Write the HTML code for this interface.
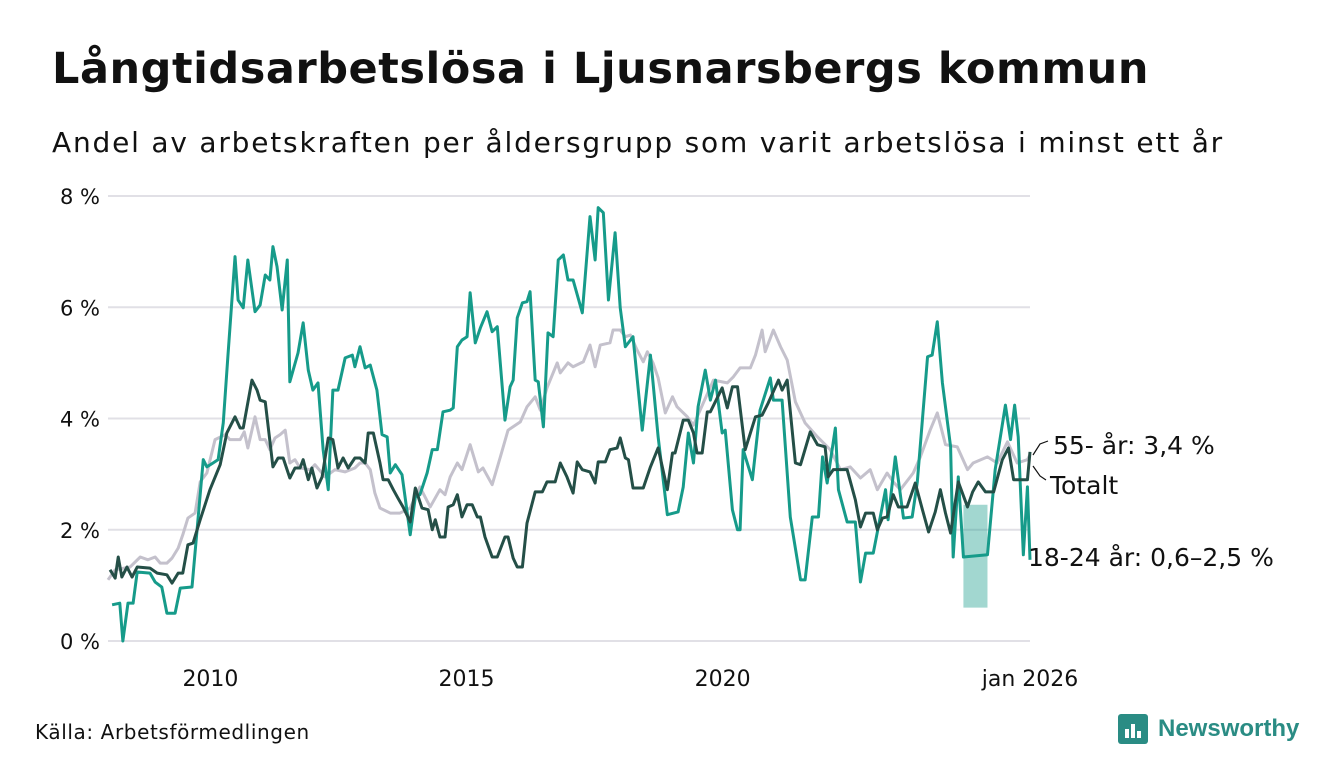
<!DOCTYPE html>
<html><head><meta charset="utf-8">
<style>
body{margin:0;width:1340px;height:780px;background:#fff;font-family:"DejaVu Sans","Liberation Sans",sans-serif;overflow:hidden;position:relative}
h1{position:absolute;left:52px;top:44px;margin:0;font-size:43px;font-weight:bold;color:#111;letter-spacing:0.55px;white-space:nowrap}
.sub{position:absolute;left:52px;top:126px;margin:0;font-size:28px;color:#111;letter-spacing:1.8px;white-space:nowrap}
.src{position:absolute;left:35px;top:720px;font-size:20px;color:#111;letter-spacing:0.6px}
.logo{position:absolute;left:1118px;top:714px;display:flex;align-items:center;gap:10px;color:#2a8c84;font-weight:bold;font-size:24px;font-family:"Liberation Sans",sans-serif}
svg{position:absolute;left:0;top:0}
</style></head><body>
<h1>Långtidsarbetslösa i Ljusnarsbergs kommun</h1>
<div class="sub">Andel av arbetskraften per åldersgrupp som varit arbetslösa i minst ett år</div>
<div class="src">Källa: Arbetsförmedlingen</div>
<div class="logo"><svg width="30" height="30" style="position:static"><rect x="0" y="0" width="30" height="30" rx="3" fill="#2a8c84"/><rect x="7" y="15" width="4" height="9" fill="#fff"/><rect x="13" y="10" width="4" height="14" fill="#fff"/><rect x="19" y="17" width="4" height="7" fill="#fff"/></svg><span>Newsworthy</span></div>
<svg id="chart" width="1340" height="780"></svg>
<script>
const yTicks=[0,2,4,6,8];
const yTickLabels=["0 %","2 %","4 %","6 %","8 %"];
const xTicks=[2010,2015,2020,2026];
const xTickLabels=["2010","2015","2020","jan 2026"];
const totX=[2008.04,2008.14,2008.2,2008.27,2008.37,2008.47,2008.57,2008.82,2008.96,2009.15,2009.25,2009.37,2009.46,2009.56,2009.66,2009.8,2009.99,2010.19,2010.32,2010.48,2010.58,2010.64,2010.81,2010.91,2010.97,2011.07,2011.22,2011.32,2011.42,2011.55,2011.65,2011.75,2011.81,2011.91,2011.98,2012.08,2012.18,2012.3,2012.39,2012.49,2012.59,2012.69,2012.82,2012.92,2013.02,2013.08,2013.18,2013.31,2013.37,2013.47,2013.57,2013.66,2013.76,2013.9,2014.0,2014.13,2014.25,2014.33,2014.39,2014.48,2014.58,2014.64,2014.74,2014.82,2014.91,2015.01,2015.11,2015.21,2015.27,2015.36,2015.5,2015.6,2015.75,2015.81,2015.91,2015.99,2016.09,2016.18,2016.34,2016.48,2016.57,2016.73,2016.83,2016.96,2017.08,2017.16,2017.26,2017.41,2017.51,2017.57,2017.71,2017.8,2017.94,2018.0,2018.1,2018.16,2018.25,2018.45,2018.59,2018.74,2018.92,2019.02,2019.07,2019.23,2019.33,2019.43,2019.5,2019.6,2019.7,2019.76,2019.99,2020.09,2020.19,2020.29,2020.44,2020.64,2020.77,2020.89,2021.09,2021.16,2021.26,2021.42,2021.52,2021.71,2021.85,2022.0,2022.06,2022.16,2022.43,2022.59,2022.69,2022.79,2022.94,2023.02,2023.12,2023.21,2023.33,2023.43,2023.6,2023.76,2023.9,2024.02,2024.15,2024.25,2024.35,2024.45,2024.6,2024.78,2024.88,2024.99,2025.13,2025.29,2025.46,2025.58,2025.68,2025.95,2026.0];
const totV=[1.28,1.13,1.51,1.15,1.33,1.15,1.33,1.31,1.22,1.19,1.04,1.22,1.22,1.73,1.76,2.18,2.72,3.17,3.74,4.03,3.83,3.83,4.69,4.51,4.33,4.3,3.13,3.29,3.29,2.93,3.11,3.11,3.26,2.9,3.11,2.75,2.95,3.65,3.62,3.11,3.29,3.11,3.29,3.29,3.2,3.74,3.74,3.2,2.9,2.9,2.72,2.57,2.41,2.14,2.75,2.39,2.36,2.0,2.18,1.87,1.87,2.41,2.45,2.63,2.23,2.45,2.45,2.23,2.23,1.87,1.51,1.51,1.87,1.87,1.49,1.33,1.33,2.12,2.68,2.68,2.86,2.86,3.2,2.95,2.66,3.22,3.08,3.04,2.84,3.22,3.22,3.44,3.47,3.65,3.29,3.26,2.75,2.75,3.13,3.47,2.72,3.38,3.38,3.97,3.97,3.74,3.38,3.38,4.12,4.12,4.55,4.19,4.57,4.57,3.44,4.03,4.06,4.28,4.69,4.51,4.69,3.2,3.17,3.76,3.53,3.49,2.95,3.08,3.08,2.54,2.05,2.3,2.3,2.0,2.21,2.23,2.63,2.41,2.41,2.84,2.36,1.96,2.32,2.72,2.3,1.94,2.86,2.41,2.68,2.86,2.68,2.68,3.26,3.47,2.9,2.9,3.4];
const oldX=[2008.0,2008.14,2008.43,2008.63,2008.78,2008.92,2009.02,2009.15,2009.25,2009.37,2009.46,2009.56,2009.7,2009.8,2009.93,2010.09,2010.29,2010.38,2010.58,2010.66,2010.73,2010.87,2010.97,2011.07,2011.16,2011.26,2011.36,2011.46,2011.55,2011.65,2011.75,2011.95,2012.04,2012.24,2012.43,2012.63,2012.82,2012.92,2013.02,2013.12,2013.21,2013.31,2013.51,2013.7,2013.9,2014.09,2014.29,2014.48,2014.58,2014.68,2014.82,2014.91,2015.07,2015.23,2015.32,2015.5,2015.66,2015.81,2016.05,2016.18,2016.34,2016.44,2016.57,2016.77,2016.83,2016.98,2017.08,2017.28,2017.41,2017.51,2017.61,2017.8,2017.86,2018.0,2018.1,2018.2,2018.33,2018.45,2018.53,2018.64,2018.74,2018.88,2019.02,2019.11,2019.31,2019.43,2019.56,2019.82,2020.09,2020.21,2020.34,2020.54,2020.64,2020.77,2020.83,2020.99,2021.13,2021.26,2021.42,2021.61,2021.85,2022.1,2022.3,2022.49,2022.69,2022.88,2023.02,2023.21,2023.33,2023.47,2023.72,2023.86,2024.05,2024.19,2024.35,2024.58,2024.78,2024.89,2025.17,2025.36,2025.56,2025.75,2025.95,2026.0];
const oldV=[1.1,1.28,1.33,1.51,1.46,1.51,1.4,1.4,1.49,1.67,1.91,2.21,2.3,2.86,3.02,3.62,3.71,3.62,3.62,3.76,3.47,4.03,3.62,3.62,3.44,3.65,3.71,3.79,3.2,3.26,3.11,3.08,3.17,2.95,3.08,3.04,3.11,3.2,3.2,3.08,2.66,2.39,2.3,2.3,2.39,2.77,2.41,2.72,2.63,2.95,3.2,3.08,3.53,3.04,3.11,2.81,3.31,3.79,3.94,4.21,4.39,4.15,4.55,5.0,4.82,5.0,4.93,5.02,5.32,4.93,5.32,5.36,5.59,5.59,5.47,5.5,5.23,5.02,5.2,5.0,4.73,4.1,4.39,4.21,4.03,3.88,4.15,4.69,4.64,4.75,4.91,4.91,5.14,5.59,5.2,5.59,5.29,5.05,4.3,3.92,3.67,3.44,3.08,3.13,2.93,3.08,2.72,3.02,2.86,2.72,3.02,3.31,3.79,4.1,3.53,3.49,3.08,3.2,3.31,3.2,3.58,3.2,3.26,3.35];
const youngX=[2008.08,2008.23,2008.29,2008.39,2008.49,2008.57,2008.82,2008.92,2009.05,2009.15,2009.31,2009.41,2009.64,2009.86,2009.93,2010.05,2010.15,2010.25,2010.34,2010.48,2010.54,2010.64,2010.73,2010.87,2010.97,2011.07,2011.16,2011.22,2011.3,2011.4,2011.5,2011.55,2011.71,2011.81,2011.91,2012.0,2012.1,2012.2,2012.3,2012.39,2012.49,2012.63,2012.77,2012.82,2012.92,2013.02,2013.12,2013.25,2013.35,2013.45,2013.51,2013.61,2013.74,2013.9,2014.0,2014.09,2014.23,2014.33,2014.43,2014.54,2014.68,2014.74,2014.82,2014.91,2015.01,2015.07,2015.17,2015.27,2015.4,2015.5,2015.6,2015.75,2015.85,2015.91,2015.99,2016.09,2016.18,2016.24,2016.34,2016.4,2016.5,2016.59,2016.69,2016.79,2016.89,2016.98,2017.08,2017.26,2017.41,2017.51,2017.57,2017.67,2017.77,2017.9,2018.0,2018.1,2018.25,2018.43,2018.59,2018.74,2018.92,2019.13,2019.23,2019.33,2019.43,2019.52,2019.66,2019.76,2019.86,2019.99,2020.05,2020.19,2020.29,2020.34,2020.4,2020.58,2020.73,2020.93,2020.99,2021.16,2021.32,2021.52,2021.61,2021.75,2021.87,2021.95,2022.04,2022.2,2022.26,2022.43,2022.59,2022.69,2022.79,2022.94,2023.18,2023.23,2023.37,2023.53,2023.7,2023.8,2024.0,2024.09,2024.19,2024.29,2024.45,2024.5,2024.6,2024.7,2025.17,2025.32,2025.52,2025.62,2025.7,2025.77,2025.87,2025.95,2026.0];
const youngV=[0.65,0.68,0,0.68,0.68,1.24,1.22,1.06,0.97,0.5,0.5,0.95,0.97,3.26,3.13,3.2,3.26,3.92,5.11,6.91,6.13,5.99,6.85,5.92,6.04,6.58,6.49,7.09,6.73,5.95,6.85,4.66,5.18,5.72,4.87,4.51,4.64,3.44,2.72,4.51,4.51,5.09,5.14,4.93,5.29,4.91,4.96,4.51,3.71,3.67,3.02,3.17,2.99,1.91,2.59,2.63,3.02,3.44,3.44,4.12,4.15,4.19,5.29,5.41,5.47,6.26,5.36,5.63,5.92,5.56,5.65,3.97,4.57,4.69,5.81,6.08,6.1,6.28,4.69,4.66,3.85,5.54,5.47,6.85,6.94,6.49,6.49,5.9,7.63,6.85,7.79,7.7,6.13,7.34,5.99,5.29,5.47,3.79,5.14,3.67,2.27,2.32,2.77,3.74,3.2,4.21,4.87,4.33,4.69,3.74,3.79,2.36,2.0,2.0,3.44,2.9,4.15,4.73,4.33,4.33,2.23,1.1,1.1,2.23,2.23,3.31,2.84,3.83,2.72,2.14,2.14,1.06,1.58,1.58,2.72,2.18,3.31,2.21,2.23,2.86,5.11,5.14,5.74,4.64,3.49,1.51,2.95,1.51,1.55,3.08,4.24,3.62,4.24,3.67,1.55,2.77,1.46];
const bandX=[2024.7,2025.17];
const bandLo=[0.6,0.6];
const bandHi=[2.45,2.45];

const NS="http://www.w3.org/2000/svg";
const svg=document.getElementById('chart');
const x0=108,x1=1030,y0=641,y1=196;
const FF='DejaVu Sans, Liberation Sans, sans-serif';
const sx=v=>x0+(v-2008)*(x1-x0)/18;
const sy=v=>y0+(v-0)*(y1-y0)/8;
function mk(t,a){const e=document.createElementNS(NS,t);for(const k in a)e.setAttribute(k,a[k]);svg.appendChild(e);return e;}
yTicks.forEach((t,i)=>{
  const g=mk('line',{x1:x0,x2:x1,y1:sy(t),y2:sy(t),stroke:'#e1e0e6','stroke-width':2});
  
  
  const l=mk('text',{x:100,y:sy(t)+8,'text-anchor':'end','font-size':21,fill:'#111','font-family':FF});
  l.textContent=yTickLabels[i];
  
  
});
xTicks.forEach((t,i)=>{
  const l=mk('text',{x:sx(t),y:686,'text-anchor':'middle','font-size':22,fill:'#111','font-family':FF});
  l.textContent=xTickLabels[i];
  
  
});
const bp=bandX.map((v,i)=>sx(v)+','+sy(bandHi[i])).concat(bandX.slice().reverse().map((v,j)=>{const i=bandX.length-1-j;return sx(v)+','+sy(bandLo[i]);}));
const band=mk('polygon',{points:bp.join(' '),fill:'#169b8a','fill-opacity':0.4});


function line(xs,vs,color,name){
  const p=mk('polyline',{points:xs.map((v,i)=>sx(v)+','+sy(vs[i])).join(' '),fill:'none',stroke:color,'stroke-width':3,'stroke-linejoin':'round'});
  
  
}
line(oldX,oldV,'#c4c1cc','line-55-plus');
line(youngX,youngV,'#169b8a','line-18-24');
line(totX,totV,'#244f47','line-totalt');
const labels=[["55- år: 3,4 %",1053,454,'label-55-plus'],["Totalt",1050,494,'label-totalt'],["18-24 år: 0,6–2,5 %",1028,566,'label-18-24']];
labels.forEach(a=>{
  const t=mk('text',{x:a[1],y:a[2],'font-size':25,fill:'#111','font-family':FF});
  t.textContent=a[0];
  
  
});
const c1=mk('polyline',{points:'1033,455 1040,444 1048,441',fill:'none',stroke:'#111','stroke-width':1.2});


const c2=mk('polyline',{points:'1033,466 1040,476 1046,480',fill:'none',stroke:'#111','stroke-width':1.2});


</script>
</body></html>
